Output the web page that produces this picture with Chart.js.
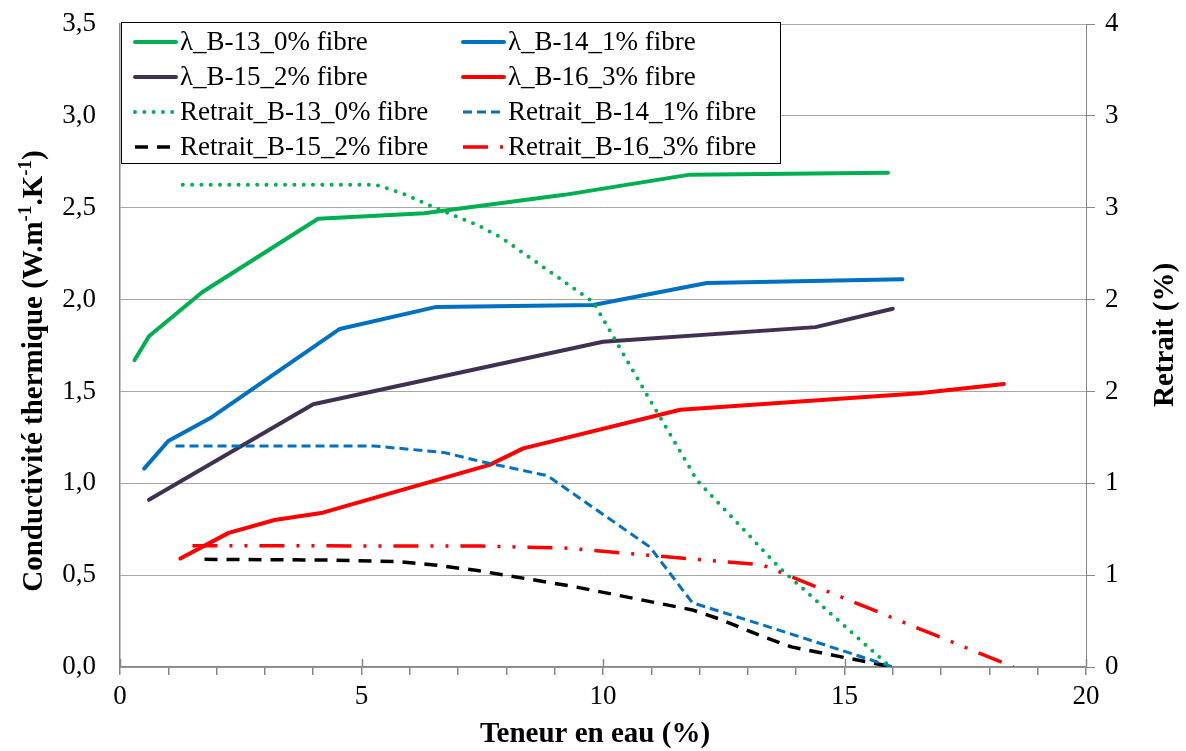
<!DOCTYPE html>
<html>
<head>
<meta charset="utf-8">
<script src="https://cdn.jsdelivr.net/npm/chart.js@4.4.1/dist/chart.umd.min.js"></script>
<style>
  body { margin: 0; background: #fff; }
</style>
</head>
<body>
<canvas id="chart" width="1186" height="751"></canvas>
<script>
// teneur en eau (%) et conductivite thermique (W/m.K)
const b13X = [0.3, 0.6, 1.7, 4.1, 6.3, 9.2, 11.8, 15.9];
const b13Lambda = [1.67, 1.80, 2.04, 2.44, 2.47, 2.57, 2.68, 2.69];
const b14X = [0.5, 1.0, 1.9, 4.55, 6.55, 9.8, 12.15, 16.2];
const b14Lambda = [1.08, 1.23, 1.36, 1.84, 1.96, 1.97, 2.09, 2.11];
const b15X = [0.6, 4.0, 10.0, 14.4, 16.0];
const b15Lambda = [0.91, 1.43, 1.77, 1.85, 1.95];
const b16X = [1.25, 2.25, 3.2, 4.2, 7.65, 8.35, 11.6, 16.55, 18.3];
const b16Lambda = [0.59, 0.73, 0.80, 0.84, 1.10, 1.19, 1.40, 1.49, 1.54];

// retrait (%)
const r13X = [1.3, 5.3, 5.9, 6.5, 7.4, 7.9, 9.8, 10.8, 11.95, 13.66, 15.95];
const r13Retrait = [3.0, 3.0, 2.94, 2.86, 2.75, 2.67, 2.27, 1.75, 1.16, 0.616, 0];
const r14X = [1.15, 5.25, 6.7, 7.45, 8.85, 10.97, 11.85, 13.95, 16.0];
const r14Retrait = [1.375, 1.375, 1.335, 1.28, 1.19, 0.747, 0.40, 0.20, 0];
const r15X = [1.75, 4.3, 5.8, 6.5, 7.4, 9.4, 11.85, 12.4, 13.3, 13.9, 15.05, 16.0];
const r15Retrait = [0.67, 0.665, 0.655, 0.635, 0.60, 0.50, 0.355, 0.30, 0.19, 0.125, 0.056, 0];
const r16X = [1.5, 7.5, 9.2, 13.3, 18.5];
const r16Retrait = [0.755, 0.752, 0.74, 0.635, 0];

const seriesLabels = [
    'λ_B-13_0% fibre', 'λ_B-14_1% fibre',
    'λ_B-15_2% fibre', 'λ_B-16_3% fibre',
    'Retrait_B-13_0% fibre', 'Retrait_B-14_1% fibre',
    'Retrait_B-15_2% fibre', 'Retrait_B-16_3% fibre'
];
const xTicks = [0, 5, 10, 15, 20];
const leftTicks = [0, 0.5, 1, 1.5, 2, 2.5, 3, 3.5];
const rightTicks = [0, 4 / 7, 8 / 7, 12 / 7, 16 / 7, 20 / 7, 24 / 7, 4];

const SERIF = '"Liberation Serif", "Times New Roman", serif';

function toPoints(xs, ys) {
    return xs.map((x, i) => ({ x: x, y: ys[i] }));
}

function lambdaSet(label, xs, ys, color) {
    return {
        label: label, data: toPoints(xs, ys), yAxisID: 'y',
        borderColor: color, borderWidth: 4, borderJoinStyle: 'round', borderCapStyle: 'round',
        pointRadius: 0, fill: false, order: 1
    };
}

function retraitSet(label, xs, ys, color, dash, width, cap) {
    return {
        label: label, data: toPoints(xs, ys), yAxisID: 'y1',
        borderColor: color, borderWidth: width, borderDash: dash, borderCapStyle: cap,
        borderJoinStyle: 'round', pointRadius: 0, fill: false, order: 0
    };
}

// no extra padding from the vertical axes, so the plot spans 24..667
function fitVertical(width) {
    return scale => {
        scale.width = width;
        scale.paddingTop = 0;
        scale.paddingBottom = 0;
    };
}

// white background
const background = {
    id: 'background',
    beforeDraw(chart) {
        const ctx = chart.ctx;
        ctx.save();
        ctx.fillStyle = '#fff';
        ctx.fillRect(0, 0, chart.width, chart.height);
        ctx.restore();
    }
};

// axis titles, major tick marks and the boxed legend
const decorations = {
    id: 'decorations',
    afterDatasetsDraw(chart) {
        const ctx = chart.ctx;
        const area = chart.chartArea;
        const xs = chart.scales.x;
        ctx.save();

        // major ticks cross the x axis
        ctx.strokeStyle = '#868686';
        ctx.lineWidth = 1.5;
        xTicks.forEach(v => {
            const px = Math.round(xs.getPixelForValue(v)) + 0.5;
            ctx.beginPath();
            ctx.moveTo(px, area.bottom - 8);
            ctx.lineTo(px, area.bottom);
            ctx.stroke();
        });

        // legend
        const box = { left: 121, top: 22, right: 780, bottom: 163 };
        ctx.fillStyle = '#fff';
        ctx.fillRect(box.left, box.top, box.right - box.left, box.bottom - box.top);
        ctx.strokeStyle = '#000';
        ctx.lineWidth = 1;
        ctx.strokeRect(box.left + 0.5, box.top + 0.5, box.right - box.left, box.bottom - box.top);

        const rowY = [42, 77, 112, 147];
        const colX = [135, 463];
        ctx.font = '27px ' + SERIF;
        ctx.textBaseline = 'middle';
        ctx.textAlign = 'left';
        chart.data.datasets.forEach((ds, i) => {
            const x0 = colX[i % 2];
            const y0 = rowY[Math.floor(i / 2)];
            ctx.save();
            ctx.strokeStyle = ds.borderColor;
            ctx.lineWidth = ds.borderWidth;
            ctx.lineCap = ds.borderCapStyle || 'round';
            ctx.setLineDash(ds.borderDash || []);
            ctx.beginPath();
            ctx.moveTo(x0, y0);
            ctx.lineTo(x0 + 41, y0);
            ctx.stroke();
            ctx.restore();
            ctx.fillStyle = '#000';
            ctx.fillText(ds.label, x0 + 45, y0 + 1);
        });

        // x title
        ctx.font = 'bold 29px ' + SERIF;
        ctx.textAlign = 'center';
        ctx.textBaseline = 'alphabetic';
        ctx.fillText('Teneur en eau (%)', 595, 742);

        // right title
        ctx.save();
        ctx.translate(1173, 335);
        ctx.rotate(-Math.PI / 2);
        ctx.fillText('Retrait (%)', 0, 0);
        ctx.restore();

        // left title with superscripts
        const parts = [
            ['Conductivité thermique (W.m', false], ['-1', true],
            ['.K', false], ['-1', true], [')', false]
        ];
        const big = 'bold 29px ' + SERIF;
        const small = 'bold 19px ' + SERIF;
        let total = 0;
        parts.forEach(p => {
            ctx.font = p[1] ? small : big;
            total += ctx.measureText(p[0]).width;
        });
        ctx.save();
        ctx.translate(42, 371);
        ctx.rotate(-Math.PI / 2);
        ctx.textAlign = 'left';
        let cx = -total / 2;
        parts.forEach(p => {
            ctx.font = p[1] ? small : big;
            ctx.fillText(p[0], cx, p[1] ? -11 : 0);
            cx += ctx.measureText(p[0]).width;
        });
        ctx.restore();

        ctx.restore();
    }
};

const ctx = document.getElementById('chart').getContext('2d');
new Chart(ctx, {
    type: 'line',
    data: {
        datasets: [
            lambdaSet(seriesLabels[0], b13X, b13Lambda, '#00B050'),
            lambdaSet(seriesLabels[1], b14X, b14Lambda, '#0070C0'),
            lambdaSet(seriesLabels[2], b15X, b15Lambda, '#403152'),
            lambdaSet(seriesLabels[3], b16X, b16Lambda, '#FF0000'),
            retraitSet(seriesLabels[4], r13X, r13Retrait, '#00B050', [0, 9.3], 4, 'round'),
            retraitSet(seriesLabels[5], r14X, r14Retrait, '#0070C0', [9, 5], 3, 'butt'),
            retraitSet(seriesLabels[6], r15X, r15Retrait, '#000000', [13, 9], 3.5, 'butt'),
            retraitSet(seriesLabels[7], r16X, r16Retrait, '#FF0000', [25, 12, 3, 12, 3, 12], 3.5, 'butt')
        ]
    },
    options: {
        responsive: false,
        animation: false,
        devicePixelRatio: 1,
        layout: { padding: { top: 24, left: 0, right: 0, bottom: 0 } },
        plugins: {
            legend: { display: false },
            tooltip: { enabled: false }
        },
        scales: {
            x: {
                type: 'linear',
                min: 0,
                max: 20,
                afterFit: scale => { scale.height = 84; },
                ticks: {
                    stepSize: 1,
                    autoSkip: false,
                    maxRotation: 0,
                    padding: 6,
                    color: '#000',
                    font: { family: SERIF, size: 27 },
                    callback: v => (xTicks.includes(v) ? String(v) : '')
                },
                grid: { drawOnChartArea: false, tickLength: 8, color: '#868686', lineWidth: 1.5 },
                border: { color: '#868686', width: 1.5 }
            },
            y: {
                position: 'left',
                min: 0,
                max: 3.5,
                afterFit: fitVertical(120),
                afterBuildTicks: scale => { scale.ticks = leftTicks.map(v => ({ value: v })); },
                ticks: {
                    padding: 24,
                    color: '#000',
                    font: { family: SERIF, size: 27 },
                    callback: v => v.toFixed(1).replace('.', ',')
                },
                grid: { drawTicks: false, color: '#A6A6A6', lineWidth: 1 },
                border: { color: '#868686', width: 1.5 }
            },
            y1: {
                position: 'right',
                min: 0,
                max: 4,
                afterFit: fitVertical(100),
                afterBuildTicks: scale => { scale.ticks = rightTicks.map(v => ({ value: v })); },
                ticks: {
                    padding: 10,
                    color: '#000',
                    font: { family: SERIF, size: 27 },
                    callback: v => String(Math.round(v))
                },
                grid: { drawOnChartArea: false, tickLength: 9, color: '#868686', lineWidth: 1 },
                border: { color: '#868686', width: 1 }
            }
        }
    },
    plugins: [background, decorations]
});
</script>
</body>
</html>
